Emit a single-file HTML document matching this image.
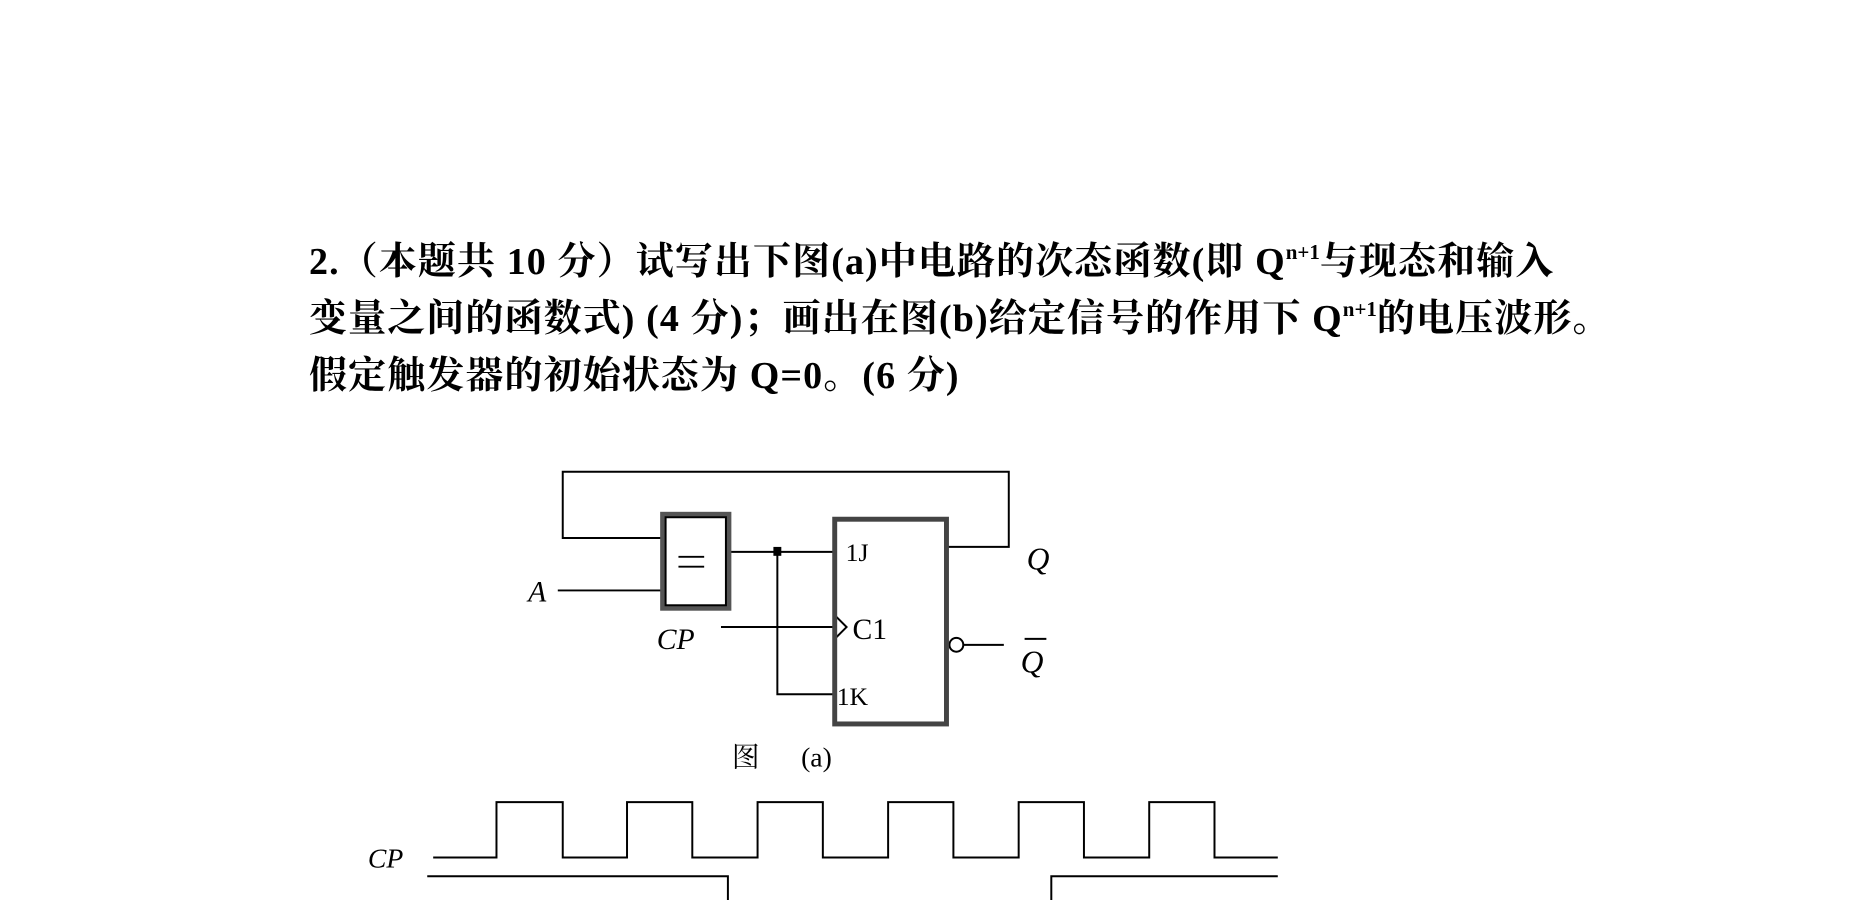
<!DOCTYPE html>
<html><head><meta charset="utf-8"><style>
html,body{margin:0;padding:0;background:#fff;}
body{width:1863px;height:900px;overflow:hidden;position:relative;}
.t{position:absolute;left:309px;font-family:"Liberation Serif","Noto Serif CJK SC",serif;font-weight:bold;font-size:38px;white-space:nowrap;color:#000;letter-spacing:1.1px;}
sup{font-size:21px;vertical-align:15px;letter-spacing:0;}
</style></head><body>
<div class="t" style="top:230px">2.（本题共 10 分）试写出下图(a)中电路的次态函数(即 Q<sup>n+1</sup>与现态和输入</div>
<div class="t" style="top:287px">变量之间的函数式) (4 分)；画出在图(b)给定信号的作用下 Q<sup>n+1</sup>的电压波形。</div>
<div class="t" style="top:344px">假定触发器的初始状态为 Q=0。(6 分)</div>
<svg width="1863" height="900" style="position:absolute;left:0;top:0" font-family="Liberation Serif,serif">
<g transform="scale(0.989)">
<g fill="none" stroke="#000" stroke-width="2">
<polyline points="670,544 569,544 569,477 1020,477 1020,553 957,553"/>
<line x1="564" y1="597" x2="670" y2="597"/>
<line x1="737" y1="558" x2="844" y2="558"/>
<polyline points="786,558 786,702 844,702"/>
<line x1="729" y1="634" x2="844" y2="634"/>
<polyline points="844,622 856,634 844,646"/>
<circle cx="967" cy="652" r="7"/>
<line x1="974" y1="652" x2="1015" y2="652"/>
<polyline points="438,867 502,867 502,811 569,811 569,867 634,867 634,811 700,811 700,867 766,867 766,811 832,811 832,867 898,867 898,811 964,811 964,867 1030,867 1030,811 1096,811 1096,867 1162,867 1162,811 1228,811 1228,867 1292,867"/>
<polyline points="432,886 736,886 736,920"/>
<polyline points="1063,920 1063,886 1292,886"/>
</g>
<rect x="670" y="520" width="67" height="95" fill="none" stroke="#555" stroke-width="5"/>
<rect x="673" y="523" width="61" height="89" fill="none" stroke="#000" stroke-width="2"/>
<line x1="686" y1="563" x2="712" y2="563" stroke="#000" stroke-width="2"/>
<line x1="686" y1="573" x2="712" y2="573" stroke="#000" stroke-width="2"/>
<rect x="844" y="525" width="113" height="207" fill="none" stroke="#444" stroke-width="5"/>
<rect x="782" y="553" width="8" height="9" fill="#000"/>
<g font-size="26">
<text x="855" y="567">1J</text>
<text x="862" y="646" font-size="30">C1</text>
<text x="846" y="713">1K</text>
<text x="534" y="608" font-style="italic" font-size="30">A</text>
<text x="664" y="656" font-style="italic" font-size="30">CP</text>
<text x="1038" y="576" font-style="italic" font-size="32">Q</text>
<text x="1032" y="680" font-style="italic" font-size="32">Q</text>
<line x1="1036" y1="646" x2="1058" y2="646" stroke="#000" stroke-width="2"/>
<text x="372" y="877" font-style="italic" font-size="28">CP</text>
</g>
<text x="740" y="775" font-size="28" font-family="Noto Serif CJK SC,serif">图</text>
<text x="810" y="775" font-size="28">(a)</text>
</g>
</svg>
</body></html>
